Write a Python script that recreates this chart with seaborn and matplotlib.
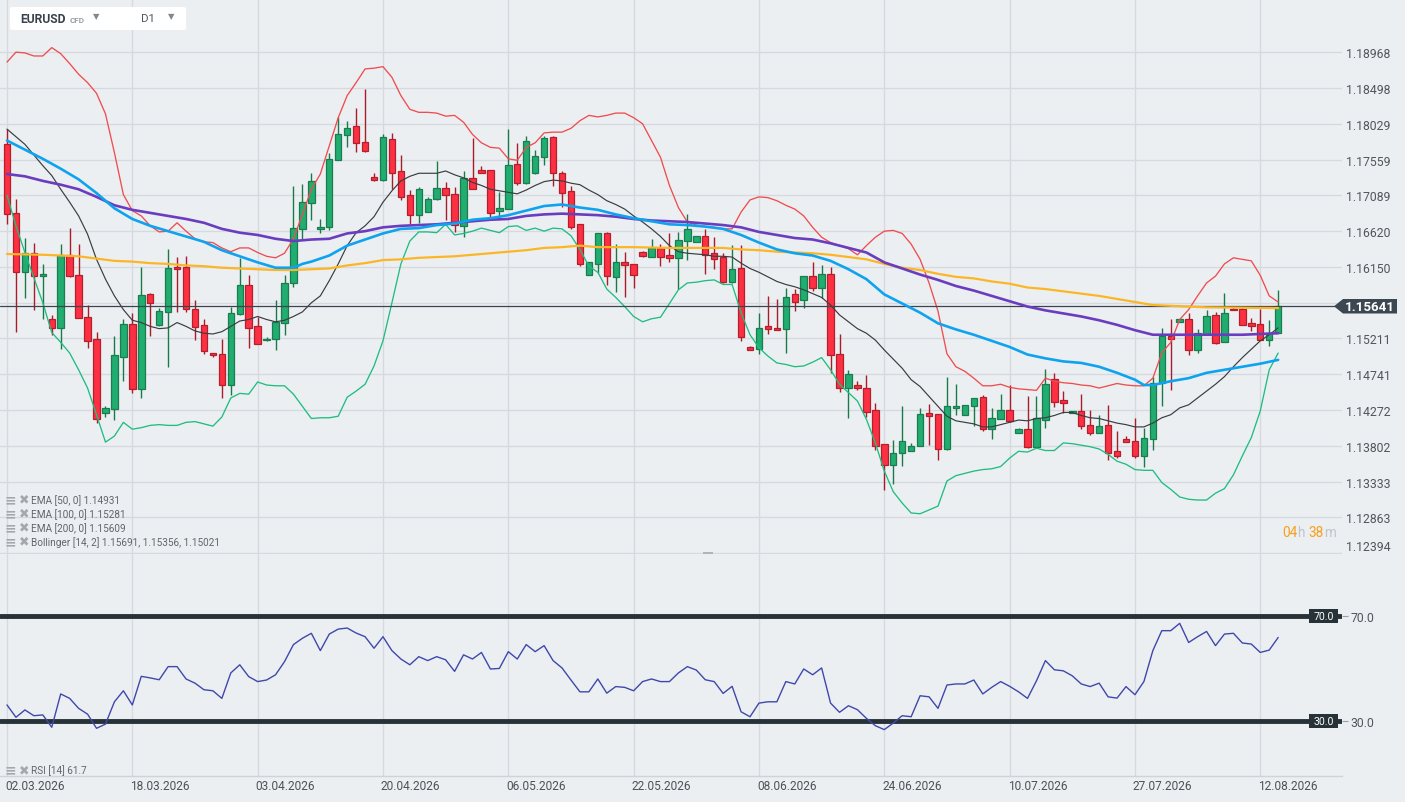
import numpy as np
import matplotlib
matplotlib.use("Agg")
import matplotlib.pyplot as plt
import matplotlib.transforms as mtransforms
from matplotlib.patches import Polygon, FancyBboxPatch, Rectangle
import seaborn as sns

# ---------------- data ----------------
date_labels = ["02.03.2026", "18.03.2026", "03.04.2026", "20.04.2026", "06.05.2026",
               "22.05.2026", "08.06.2026", "24.06.2026", "10.07.2026", "27.07.2026",
               "12.08.2026"]

opens = [1.17763, 1.16856, 1.16084, 1.16338, 1.16032, 1.15471, 1.15352, 1.16303, 1.16049, 1.15497,
         1.15199, 1.14235, 1.14287, 1.14971, 1.15396, 1.14550, 1.15791, 1.15383, 1.15563, 1.16146,
         1.16146, 1.15602, 1.15383, 1.15015, 1.15002, 1.14603, 1.15528, 1.15909, 1.15374, 1.15186,
         1.15199, 1.15418, 1.15935, 1.16645, 1.16996, 1.16645, 1.16680, 1.17553, 1.17881, 1.17995,
         1.17785, 1.17325, 1.17298, 1.17829, 1.17404, 1.17092, 1.16838, 1.16878, 1.17040, 1.17193,
         1.17114, 1.16689, 1.17316, 1.17417, 1.17417, 1.16886, 1.16917, 1.17500, 1.17250, 1.17377,
         1.17588, 1.17851, 1.17382, 1.17141, 1.16711, 1.16049, 1.16194, 1.16593, 1.16023, 1.16220,
         1.16194, 1.16352, 1.16281, 1.16400, 1.16312, 1.16268, 1.16496, 1.16483, 1.16562, 1.16330,
         1.16281, 1.15953, 1.16132, 1.15102, 1.15076, 1.15370, 1.15352, 1.15339, 1.15799, 1.15716,
         1.16032, 1.15878, 1.16062, 1.15010, 1.14563, 1.14594, 1.14563, 1.14278, 1.13827, 1.13551,
         1.13709, 1.13731, 1.13796, 1.14235, 1.14213, 1.13761, 1.14300, 1.14204, 1.14322, 1.14449,
         1.14024, 1.14160, 1.14278, 1.13972, 1.14024, 1.13788, 1.14147, 1.14673, 1.14397, 1.14235,
         1.14265, 1.14081, 1.13972, 1.14081, 1.13739, 1.13897, 1.13871, 1.13665, 1.13893, 1.14620,
         1.15243, 1.15427, 1.15471, 1.15059, 1.15265, 1.15514, 1.15164, 1.15602, 1.15593, 1.15409,
         1.15396, 1.15190, 1.15278]
highs = [1.17960, 1.17048, 1.16536, 1.16461, 1.16194, 1.15514, 1.16448, 1.16658, 1.16448, 1.15646,
         1.15295, 1.14322, 1.15243, 1.15462, 1.15541, 1.16150, 1.15804, 1.15615, 1.16382, 1.16281,
         1.16295, 1.15716, 1.15462, 1.15024, 1.15199, 1.15628, 1.16264, 1.16049, 1.15497, 1.15225,
         1.15712, 1.16040, 1.17215, 1.17237, 1.17382, 1.16786, 1.17645, 1.18114, 1.18070, 1.18236,
         1.18486, 1.17382, 1.17894, 1.17908, 1.17618, 1.17158, 1.17198, 1.17070, 1.17539, 1.17259,
         1.17198, 1.17412, 1.17842, 1.17474, 1.17417, 1.17136, 1.17960, 1.17776, 1.17872, 1.17680,
         1.17872, 1.17872, 1.17408, 1.17215, 1.16711, 1.16220, 1.16593, 1.16610, 1.16448, 1.16347,
         1.16194, 1.16360, 1.16514, 1.16448, 1.16601, 1.16610, 1.16842, 1.16562, 1.16645, 1.16549,
         1.16330, 1.16435, 1.16435, 1.15111, 1.15541, 1.15769, 1.15725, 1.15878, 1.15856, 1.16032,
         1.16216, 1.16172, 1.16154, 1.15265, 1.14791, 1.14651, 1.14725, 1.14366, 1.13827, 1.13875,
         1.14331, 1.13840, 1.14296, 1.14353, 1.14213, 1.14708, 1.14607, 1.14344, 1.14432, 1.14463,
         1.14300, 1.14476, 1.14594, 1.14037, 1.14454, 1.14454, 1.14813, 1.14752, 1.14519, 1.14265,
         1.14484, 1.14278, 1.14200, 1.14344, 1.14002, 1.13937, 1.14169, 1.14037, 1.14708, 1.15352,
         1.15462, 1.15471, 1.15549, 1.15330, 1.15580, 1.15558, 1.15804, 1.15628, 1.15637, 1.15484,
         1.15602, 1.15449, 1.15843]
lows = [1.16711, 1.15295, 1.15747, 1.15585, 1.15462, 1.15251, 1.15076, 1.16018, 1.15484, 1.15089,
        1.14103, 1.14182, 1.14138, 1.14651, 1.14498, 1.14432, 1.15243, 1.15374, 1.14839, 1.15558,
        1.15558, 1.15190, 1.15002, 1.14971, 1.14432, 1.14467, 1.15514, 1.15089, 1.15133, 1.15177,
        1.15054, 1.15251, 1.15891, 1.16514, 1.16768, 1.16601, 1.16636, 1.17553, 1.17719, 1.17662,
        1.17662, 1.17281, 1.17281, 1.17180, 1.17031, 1.16711, 1.16724, 1.16869, 1.17031, 1.16768,
        1.16610, 1.16549, 1.17180, 1.17390, 1.16812, 1.16786, 1.16917, 1.17224, 1.17233, 1.17373,
        1.17487, 1.17215, 1.16943, 1.16654, 1.16163, 1.16049, 1.16067, 1.15909, 1.15821, 1.15756,
        1.15874, 1.16286, 1.16281, 1.16163, 1.16216, 1.15865, 1.16242, 1.16483, 1.16062, 1.16128,
        1.15935, 1.15935, 1.15177, 1.15055, 1.15002, 1.15273, 1.15322, 1.15024, 1.15571, 1.15615,
        1.15834, 1.15747, 1.14761, 1.14506, 1.14169, 1.14533, 1.14182, 1.13744, 1.13227, 1.13305,
        1.13533, 1.13731, 1.13796, 1.13818, 1.13612, 1.13744, 1.14200, 1.14200, 1.14059, 1.13994,
        1.13893, 1.14156, 1.14112, 1.13972, 1.13774, 1.13774, 1.14037, 1.14309, 1.14235, 1.14235,
        1.14024, 1.13950, 1.13972, 1.13621, 1.13643, 1.13853, 1.13643, 1.13520, 1.13744, 1.14331,
        1.14541, 1.15427, 1.14993, 1.15015, 1.15265, 1.15133, 1.15164, 1.15585, 1.15387, 1.15308,
        1.15190, 1.15111, 1.15278]
closes = [1.16842, 1.16084, 1.16338, 1.16032, 1.16062, 1.15352, 1.16303, 1.16032, 1.15484, 1.15177,
          1.14156, 1.14300, 1.14988, 1.15396, 1.14550, 1.15786, 1.15681, 1.15571, 1.16141, 1.16119,
          1.15593, 1.15365, 1.15045, 1.14988, 1.14594, 1.15541, 1.15909, 1.15352, 1.15133, 1.15208,
          1.15427, 1.15944, 1.16667, 1.17009, 1.17272, 1.16680, 1.17566, 1.17890, 1.17973, 1.17776,
          1.17675, 1.17290, 1.17851, 1.17390, 1.17062, 1.16838, 1.17180, 1.17048, 1.17193, 1.17101,
          1.16698, 1.17316, 1.17180, 1.17390, 1.16864, 1.16930, 1.17487, 1.17250, 1.17798, 1.17601,
          1.17837, 1.17377, 1.17127, 1.16676, 1.16194, 1.16220, 1.16593, 1.16032, 1.16220, 1.16181,
          1.16049, 1.16295, 1.16400, 1.16281, 1.16268, 1.16501, 1.16645, 1.16562, 1.16308, 1.16260,
          1.15953, 1.16119, 1.15234, 1.15059, 1.15352, 1.15339, 1.15322, 1.15760, 1.15690, 1.16032,
          1.15878, 1.16058, 1.14993, 1.14563, 1.14739, 1.14555, 1.14243, 1.13805, 1.13555, 1.13709,
          1.13862, 1.13805, 1.14221, 1.14191, 1.13761, 1.14331, 1.14331, 1.14344, 1.14432, 1.14024,
          1.14169, 1.14278, 1.14125, 1.14024, 1.13788, 1.14169, 1.14616, 1.14375, 1.14366, 1.14265,
          1.14059, 1.13972, 1.14068, 1.13709, 1.13665, 1.13853, 1.13665, 1.13906, 1.14629, 1.15243,
          1.15208, 1.15471, 1.15059, 1.15287, 1.15506, 1.15146, 1.15549, 1.15585, 1.15387, 1.15374,
          1.15190, 1.15278, 1.15641]

bb_upper = [1.1884, 1.1897, 1.1896, 1.1892, 1.1892, 1.1903, 1.1895, 1.1882, 1.1868, 1.1857,
            1.1843, 1.1816, 1.1765, 1.1710, 1.1689, 1.1682, 1.1669, 1.1661, 1.1662, 1.1673,
            1.1662, 1.1652, 1.1648, 1.1647, 1.1640, 1.1635, 1.1640, 1.1640, 1.1634, 1.1629,
            1.1627, 1.1633, 1.1652, 1.1684, 1.1717, 1.1737, 1.1774, 1.1811, 1.1840, 1.1857,
            1.1875, 1.1876, 1.1878, 1.1864, 1.1840, 1.1822, 1.1818, 1.1818, 1.1817, 1.1813,
            1.1814, 1.1805, 1.1789, 1.1778, 1.1772, 1.1771, 1.1757, 1.1755, 1.1772, 1.1778,
            1.1791, 1.1792, 1.1792, 1.1797, 1.1807, 1.1814, 1.1812, 1.1814, 1.1817, 1.1817,
            1.1811, 1.1803, 1.1781, 1.1759, 1.1722, 1.1693, 1.1674, 1.1670, 1.1668, 1.1667,
            1.1665, 1.1665, 1.1687, 1.1703, 1.1707, 1.1706, 1.1702, 1.1696, 1.1691, 1.1682,
            1.1667, 1.1654, 1.1647, 1.1643, 1.1639, 1.1631, 1.1643, 1.1654, 1.1662, 1.1663,
            1.1659, 1.1645, 1.1625, 1.1594, 1.1557, 1.1501, 1.1484, 1.1478, 1.1469, 1.1459,
            1.1459, 1.1461, 1.1457, 1.1455, 1.1454, 1.1453, 1.1469, 1.1465, 1.1463, 1.1462,
            1.1460, 1.1459, 1.1456, 1.1459, 1.1462, 1.1460, 1.1459, 1.1459, 1.1469, 1.1502,
            1.1516, 1.1546, 1.1559, 1.1577, 1.1594, 1.1603, 1.1619, 1.1627, 1.1625, 1.1623,
            1.1604, 1.1577, 1.1569]
bb_mid = [1.1796, 1.1786, 1.1776, 1.1762, 1.1748, 1.1735, 1.1717, 1.1700, 1.1682, 1.1658,
          1.1625, 1.1599, 1.1577, 1.1559, 1.1545, 1.1542, 1.1537, 1.1534, 1.1535, 1.1542,
          1.1537, 1.1531, 1.1528, 1.1527, 1.1530, 1.1537, 1.1544, 1.1546, 1.1550, 1.1546,
          1.1543, 1.1545, 1.1550, 1.1556, 1.1568, 1.1577, 1.1597, 1.1619, 1.1643, 1.1660,
          1.1669, 1.1681, 1.1700, 1.1715, 1.1728, 1.1734, 1.1738, 1.1738, 1.1738, 1.1741,
          1.1736, 1.1732, 1.1726, 1.1722, 1.1717, 1.1715, 1.1713, 1.1711, 1.1716, 1.1722,
          1.1727, 1.1729, 1.1728, 1.1725, 1.1723, 1.1716, 1.1710, 1.1702, 1.1697, 1.1691,
          1.1682, 1.1674, 1.1665, 1.1655, 1.1643, 1.1635, 1.1633, 1.1632, 1.1631, 1.1629,
          1.1629, 1.1628, 1.1620, 1.1613, 1.1608, 1.1602, 1.1596, 1.1592, 1.1589, 1.1585,
          1.1580, 1.1575, 1.1565, 1.1552, 1.1543, 1.1534, 1.1528, 1.1519, 1.1506, 1.1494,
          1.1482, 1.1467, 1.1458, 1.1445, 1.1432, 1.1419, 1.1413, 1.1411, 1.1409, 1.1405,
          1.1405, 1.1408, 1.1411, 1.1414, 1.1413, 1.1416, 1.1417, 1.1420, 1.1424, 1.1424,
          1.1420, 1.1417, 1.1416, 1.1413, 1.1410, 1.1408, 1.1405, 1.1405, 1.1410, 1.1417,
          1.1421, 1.1430, 1.1434, 1.1443, 1.1452, 1.1461, 1.1471, 1.1484, 1.1496, 1.1507,
          1.1518, 1.1526, 1.1535]
bb_lower = [1.1709, 1.1669, 1.1634, 1.1601, 1.1568, 1.1529, 1.1516, 1.1502, 1.1480, 1.1456,
            1.1421, 1.1385, 1.1393, 1.1411, 1.1402, 1.1404, 1.1407, 1.1408, 1.1407, 1.1407,
            1.1411, 1.1412, 1.1409, 1.1406, 1.1418, 1.1443, 1.1449, 1.1448, 1.1464, 1.1460,
            1.1459, 1.1459, 1.1448, 1.1432, 1.1416, 1.1417, 1.1417, 1.1419, 1.1444, 1.1452,
            1.1461, 1.1485, 1.1518, 1.1568, 1.1619, 1.1649, 1.1661, 1.1661, 1.1660, 1.1671,
            1.1657, 1.1659, 1.1662, 1.1666, 1.1663, 1.1660, 1.1668, 1.1669, 1.1663, 1.1666,
            1.1662, 1.1666, 1.1665, 1.1656, 1.1638, 1.1616, 1.1608, 1.1586, 1.1575, 1.1563,
            1.1550, 1.1543, 1.1547, 1.1549, 1.1567, 1.1585, 1.1594, 1.1595, 1.1597, 1.1598,
            1.1592, 1.1592, 1.1555, 1.1526, 1.1509, 1.1498, 1.1489, 1.1487, 1.1484, 1.1485,
            1.1490, 1.1496, 1.1480, 1.1461, 1.1450, 1.1439, 1.1415, 1.1384, 1.1347, 1.1320,
            1.1305, 1.1292, 1.1291, 1.1296, 1.1301, 1.1334, 1.1341, 1.1344, 1.1347, 1.1349,
            1.1350, 1.1353, 1.1364, 1.1373, 1.1372, 1.1377, 1.1374, 1.1374, 1.1384, 1.1383,
            1.1381, 1.1379, 1.1376, 1.1369, 1.1360, 1.1356, 1.1349, 1.1348, 1.1348, 1.1332,
            1.1323, 1.1313, 1.1310, 1.1309, 1.1309, 1.1318, 1.1324, 1.1342, 1.1367, 1.1391,
            1.1426, 1.1480, 1.1502]

ema50_idx = [0, 2, 4, 6, 8, 10, 12, 14, 16, 18, 20, 22, 24, 26, 28, 30, 32, 33, 34,
             36, 38, 40, 42, 44, 46, 48, 50, 52, 54, 56, 58, 60, 62, 64, 66, 68, 70, 72, 74,
             76, 78, 80, 82, 84, 86, 88, 90, 92, 94, 96, 98, 100, 102, 104, 106, 108, 110,
             112, 114, 116, 118, 120, 122, 124, 126, 127, 128, 130, 132, 134, 136, 138, 140, 142]
ema50 = [1.1781, 1.1769, 1.1757, 1.1744, 1.1730, 1.1712, 1.1692, 1.1678, 1.1669, 1.1662,
         1.1655, 1.1648, 1.1637, 1.1629, 1.1621, 1.1614, 1.1614, 1.1619, 1.1622,
         1.1630, 1.1643, 1.1651, 1.1659, 1.1665, 1.1666, 1.1670, 1.1672, 1.1677, 1.1679,
         1.1683, 1.1689, 1.1695, 1.1697, 1.1693, 1.1690, 1.1684, 1.1679, 1.1675, 1.1671,
         1.1670, 1.1668, 1.1665, 1.1657, 1.1647, 1.1638, 1.1633, 1.1630, 1.1623, 1.1612,
         1.1599, 1.1579, 1.1567, 1.1555, 1.1541, 1.1533, 1.1526, 1.1518, 1.1510, 1.1500,
         1.1495, 1.1491, 1.1489, 1.1484, 1.1476, 1.1467, 1.1460, 1.1460, 1.1465, 1.1469,
         1.1476, 1.1480, 1.1484, 1.1488, 1.1493]

ema100_idx = [0, 2, 4, 6, 8, 10, 12, 14, 16, 18, 20, 22, 24, 26, 28, 30, 32, 34, 36, 38,
              40, 42, 44, 46, 48, 50, 52, 54, 56, 58, 60, 62, 64, 66, 68, 70, 72, 74, 76, 78,
              80, 82, 84, 86, 88, 90, 92, 94, 96, 98, 100, 102, 104, 106, 108, 110, 112, 114,
              116, 118, 120, 122, 124, 126, 128, 130, 134, 138, 142]
ema100 = [1.1737, 1.1734, 1.1728, 1.1723, 1.1717, 1.1707, 1.1696, 1.1690, 1.1686, 1.1682,
          1.1678, 1.1673, 1.1665, 1.1660, 1.1657, 1.1652, 1.1649, 1.1651, 1.1652, 1.1659,
          1.1662, 1.1667, 1.1669, 1.1670, 1.1671, 1.1673, 1.1675, 1.1677, 1.1678, 1.1682,
          1.1684, 1.1685, 1.1684, 1.1683, 1.1681, 1.1678, 1.1676, 1.1675, 1.1674, 1.1672,
          1.1670, 1.1667, 1.1661, 1.1657, 1.1653, 1.1651, 1.1646, 1.1640, 1.1634, 1.1621,
          1.1613, 1.1605, 1.1598, 1.1590, 1.1584, 1.1577, 1.1570, 1.1563, 1.1558, 1.1554,
          1.1550, 1.1545, 1.1539, 1.1532, 1.1526, 1.1526, 1.1526, 1.1526, 1.1528]

ema200_idx = [0, 4, 8, 10, 12, 14, 16, 18, 20, 22, 24, 26, 28, 30, 32, 34, 36, 38, 40, 42,
              44, 46, 48, 50, 52, 54, 56, 58, 60, 62, 64, 66, 70, 74, 78, 80, 82, 84, 86, 88,
              90, 92, 94, 96, 98, 100, 102, 104, 106, 108, 110, 112, 114, 116, 118, 120, 122,
              124, 126, 128, 130, 134, 142]
ema200 = [1.1632, 1.1631, 1.1629, 1.1626, 1.1623, 1.1622, 1.1620, 1.1619, 1.1617, 1.1616,
          1.1614, 1.1613, 1.1612, 1.1611, 1.1611, 1.1612, 1.1613, 1.1617, 1.1620, 1.1624,
          1.1625, 1.1627, 1.1628, 1.1629, 1.1631, 1.1633, 1.1635, 1.1637, 1.1640, 1.1641,
          1.1643, 1.1641, 1.1641, 1.1640, 1.1640, 1.1640, 1.1638, 1.1637, 1.1635, 1.1634,
          1.1633, 1.1631, 1.1628, 1.1625, 1.1619, 1.1614, 1.1611, 1.1606, 1.1602, 1.1600,
          1.1596, 1.1593, 1.1588, 1.1586, 1.1583, 1.1580, 1.1577, 1.1573, 1.1569, 1.1565,
          1.1564, 1.1562, 1.1561]

rsi = [36.0, 31.3, 34.1, 31.9, 32.2, 27.5, 40.2, 38.5, 34.7, 32.5,
       27.1, 28.7, 37.2, 41.4, 36.0, 46.9, 46.3, 45.6, 50.6, 50.6,
       45.9, 44.3, 41.8, 41.4, 38.5, 48.2, 51.3, 46.8, 44.9, 45.5,
       47.5, 52.5, 59.0, 61.4, 63.3, 56.7, 63.0, 64.9, 65.3, 63.4,
       62.0, 57.6, 62.0, 56.7, 53.5, 51.3, 54.4, 52.9, 54.4, 53.2,
       48.8, 55.1, 53.5, 56.0, 49.7, 49.9, 56.3, 53.5, 59.0, 56.3,
       58.6, 52.9, 50.1, 45.5, 41.0, 41.0, 45.9, 40.5, 43.0, 42.7,
       41.4, 44.9, 45.9, 44.9, 44.9, 48.2, 50.6, 49.3, 45.6, 44.9,
       40.4, 43.1, 33.4, 31.5, 36.7, 37.2, 37.2, 44.9, 44.0, 49.7,
       47.5, 50.1, 36.7, 33.2, 35.7, 34.2, 30.9, 28.1, 26.6, 29.1,
       31.9, 31.5, 39.5, 39.1, 34.7, 43.6, 44.0, 44.0, 45.5, 40.2,
       42.7, 44.9, 43.1, 41.0, 38.5, 45.2, 52.9, 49.4, 49.0, 47.1,
       44.0, 43.0, 44.3, 39.1, 38.6, 43.0, 39.9, 44.9, 56.7, 64.3,
       64.3, 67.1, 59.8, 62.0, 64.0, 58.6, 63.0, 63.3, 59.6, 59.2,
       56.0, 56.9, 61.7]

price_ticks = [1.18968, 1.18498, 1.18029, 1.17559, 1.17089, 1.16620, 1.16150, 1.15680,
               1.15211, 1.14741, 1.14272, 1.13802, 1.13333, 1.12863, 1.12394]
last_price = 1.15641
rsi_levels = [30, 70]
legend_lines = ["EMA [50, 0] 1.14931", "EMA [100, 0] 1.15281", "EMA [200, 0] 1.15609",
                "Bollinger [14, 2] 1.15691, 1.15356, 1.15021"]
rsi_legend = "RSI [14] 61.7"

# ---------------- style ----------------
BG = "#eceff2"
GRID = "#d6dadf"
UP, UP_EDGE, UP_WICK = "#22ad70", "#187d4f", "#1a7a47"
DN, DN_EDGE, DN_WICK = "#fd2f43", "#b3202c", "#a81d2a"

sns.set_theme(style="white", rc={"axes.facecolor": BG, "figure.facecolor": BG})
plt.rcParams["font.family"] = ["Roboto", "DejaVu Sans"]

W, H = 1405, 803
fig = plt.figure(figsize=(W / 100, H / 100), dpi=100)
fig.patch.set_facecolor(BG)


def fx(px):
    return px / W


def fy(py):
    return 1 - py / H


ax = fig.add_axes([0, fy(554.5), fx(1342), 554.5 / H])
rax = fig.add_axes([0, fy(777), fx(1342), (777 - 554.5) / H])
for a in (ax, rax):
    a.set_facecolor(BG)
    for s in a.spines.values():
        s.set_visible(False)

n = len(closes)
x = np.arange(n)
o = np.array(opens)
c = np.array(closes)
hi = np.array(highs)
lo = np.array(lows)
up = c >= o
dn = ~up
bottom = np.minimum(o, c)
height = np.maximum(np.abs(c - o), 0.00012)

ax.vlines(x[up], lo[up], hi[up], color=UP_WICK, lw=1.0, zorder=2)
ax.vlines(x[dn], lo[dn], hi[dn], color=DN_WICK, lw=1.0, zorder=2)
ax.bar(x[up], height[up], bottom=bottom[up], width=0.72, color=UP,
       edgecolor=UP_EDGE, linewidth=0.9, zorder=3)
ax.bar(x[dn], height[dn], bottom=bottom[dn], width=0.72, color=DN,
       edgecolor=DN_EDGE, linewidth=0.9, zorder=3)

sns.lineplot(x=x, y=bb_upper, ax=ax, color="#ef4d4f", linewidth=0.95, zorder=4, legend=False)
sns.lineplot(x=x, y=bb_lower, ax=ax, color="#1fbd80", linewidth=0.95, zorder=4, legend=False)
sns.lineplot(x=x, y=bb_mid, ax=ax, color="#3a3d40", linewidth=0.85, zorder=4, legend=False)
sns.lineplot(x=ema200_idx, y=ema200, ax=ax, color="#fbb626", linewidth=1.6, zorder=5, legend=False)
sns.lineplot(x=ema100_idx, y=ema100, ax=ax, color="#6a3dbf", linewidth=1.9, zorder=5, legend=False)
sns.lineplot(x=ema50_idx, y=ema50, ax=ax, color="#0ea3ef", linewidth=1.9, zorder=5, legend=False)

ax.axhline(last_price, color="#3b4550", lw=0.9, zorder=4)

xlim = (-0.782, 149.13)
ax.set_xlim(*xlim)
ax.set_ylim(1.12388, 1.19668)
ax.set_xticks(range(0, 141, 14))
ax.set_xticklabels([])
ax.yaxis.tick_right()
ax.set_yticks(price_ticks)
ax.set_yticklabels(["" if abs(t - 1.15680) < 1e-6 else f"{t:.5f}" for t in price_ticks])
ax.tick_params(axis="y", length=0, pad=3, labelsize=8.8, labelcolor="#50565c")
ax.tick_params(axis="x", length=0)
ax.grid(True, color=GRID, lw=1.0, zorder=0)
ax.set_axisbelow(True)
ax.set_xlabel("")
ax.set_ylabel("")
ax.get_yticklabels()[-1].set_va("bottom")

# RSI pane
for lvl in rsi_levels:
    rax.axhline(lvl, color="#263238", lw=3.5, zorder=2)
sns.lineplot(x=x, y=rsi, ax=rax, color="#3f48aa", linewidth=1.0, zorder=3, legend=False)
rax.set_xlim(*xlim)
rax.set_ylim(8.93, 93.7)
rax.set_xticks(range(0, 141, 14))
rax.set_xticklabels(date_labels, ha="left")
rax.yaxis.tick_right()
rax.set_yticks(rsi_levels)
rax.set_yticklabels([f"{v:.1f}" for v in rsi_levels])
rax.tick_params(axis="y", length=4, width=0.8, color="#9aa0a6", pad=2,
                labelsize=8.8, labelcolor="#50565c")
rax.tick_params(axis="x", length=0, pad=2.5, labelsize=8.6, labelcolor="#4d5257")
rax.grid(True, axis="x", color=GRID, lw=1.0, zorder=0)
rax.grid(False, axis="y")
rax.set_axisbelow(True)
rax.spines["bottom"].set_visible(True)
rax.spines["bottom"].set_color("#cfd3d8")
rax.spines["bottom"].set_linewidth(1.0)
rax.set_xlabel("")
rax.set_ylabel("")
off = mtransforms.ScaledTranslation(-2 / 100, 0, fig.dpi_scale_trans)
for lab in rax.get_xticklabels():
    lab.set_transform(lab.get_transform() + off)

# current price tag
tag = Polygon([[fx(1334), fy(307.3)], [fx(1343), fy(300)], [fx(1397), fy(300)],
               [fx(1397), fy(314.5)], [fx(1343), fy(314.5)]], closed=True,
              transform=fig.transFigure, facecolor="#3c4752", edgecolor="none", zorder=10)
fig.add_artist(tag)
fig.text(fx(1370), fy(307.3), f"{last_price:.5f}", color="white", fontsize=9.6,
         fontweight="bold", ha="center", va="center", zorder=11)

# RSI level tags
for lvl, yc in ((70, 617.0), (30, 721.7)):
    r = Rectangle((fx(1309), fy(yc + 7)), fx(29), 14 / H, transform=fig.transFigure,
                  facecolor="#263238", edgecolor="none", zorder=10)
    fig.add_artist(r)
    fig.text(fx(1323.5), fy(yc), f"{lvl:.1f}", color="white", fontsize=7.6,
             ha="center", va="center", zorder=11)

# countdown
ORANGE, LGREY = "#f5a01a", "#c0c5cb"
for s, xp, col in (("04", 1282.5, ORANGE), ("h", 1297.5, LGREY),
                   ("38", 1308.5, ORANGE), ("m", 1324.5, LGREY)):
    fig.text(fx(xp), fy(533), s, color=col, fontsize=9.8, ha="left", va="center")

# top-left instrument box
box = FancyBboxPatch((fx(10), fy(31)), fx(176), 23 / H,
                     boxstyle="round,pad=0,rounding_size=0.002",
                     transform=fig.transFigure, facecolor="white", edgecolor="none", zorder=10)
fig.add_artist(box)
fig.text(fx(20), fy(19.5), "EURUSD", color="#39424c", fontsize=8.7, fontweight="bold",
         ha="left", va="center", zorder=11)
fig.text(fx(70), fy(20.3), "CFD", color="#9aa0a6", fontsize=5.8, fontweight="bold",
         ha="left", va="center", zorder=11)
fig.text(fx(93), fy(17.0), "▼", color="#80878e", fontsize=6.0, family=["DejaVu Sans"],
         ha="left", va="center", zorder=11)
fig.text(fx(141), fy(19.5), "D1", color="#4f565d", fontsize=8.2, ha="left", va="center", zorder=11)
fig.text(fx(168), fy(17.0), "▼", color="#80878e", fontsize=6.0, family=["DejaVu Sans"],
         ha="left", va="center", zorder=11)

# indicator legends
ICON = "#a3a8ad"
for k, txt in enumerate(legend_lines):
    yy = 500.3 + 14 * k
    fig.text(fx(5), fy(yy), "≡", color=ICON, fontsize=10, fontweight="bold",
             family=["DejaVu Sans"], ha="left", va="center")
    fig.text(fx(18.5), fy(yy), "✖", color=ICON, fontsize=9, family=["DejaVu Sans"],
             ha="left", va="center")
    fig.text(fx(31), fy(yy), txt, color="#60666c", fontsize=7.2, ha="left", va="center")
fig.text(fx(5), fy(770.5), "≡", color=ICON, fontsize=10, fontweight="bold",
         family=["DejaVu Sans"], ha="left", va="center")
fig.text(fx(18.5), fy(770.5), "✖", color=ICON, fontsize=9, family=["DejaVu Sans"],
         ha="left", va="center")
fig.text(fx(31), fy(770.5), rsi_legend, color="#60666c", fontsize=7.2, ha="left", va="center")

# pane resize handle
fig.add_artist(Rectangle((fx(703), fy(554.5)), fx(10), 2 / H, transform=fig.transFigure,
                         facecolor="#b3b3b6", edgecolor="none", zorder=10))

fig.savefig("out.png", dpi=100, facecolor=BG)
